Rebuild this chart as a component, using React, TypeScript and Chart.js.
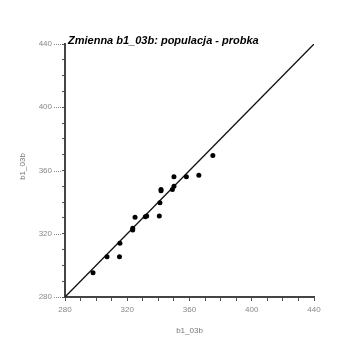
import React, { useEffect, useRef } from "react";
import { Chart, registerables } from "chart.js";

Chart.register(...registerables);

const xValues = [375, 366, 358, 350, 350, 349, 341.7, 341.7, 341, 340.6, 332.5, 331.6, 325, 323.5, 323.5, 315.3, 315, 307, 298];
const yValues = [369.5, 357, 356, 356, 350, 348, 348, 347.2, 339.6, 331.2, 331.2, 330.8, 330.4, 323.4, 322.4, 314, 305.5, 305.5, 295.4];
const axisMin = 280;
const axisMax = 440;
const titleText = "Zmienna b1_03b: populacja - probka";
const xTitle = "b1_03b";
const yTitle = "b1_03b";

export default function App() {
  const ref = useRef<HTMLCanvasElement | null>(null);
  useEffect(() => {
    if (!ref.current) return;
    const points = xValues.map((x, i) => ({ x, y: yValues[i] }));
    const textPlugin = {
      id: "texts",
      afterDraw(chart: any) {
        const ctx = chart.ctx;
        const area = chart.chartArea;
        const ys = chart.scales.y;
        ctx.save();
        ctx.strokeStyle = "#888";
        ctx.lineWidth = 1;
        ctx.setLineDash([1, 1]);
        for (let v = axisMin; v <= axisMax; v += 40) {
          const py = Math.round(ys.getPixelForValue(v)) + 0.5;
          ctx.beginPath();
          ctx.moveTo(54, py);
          ctx.lineTo(area.left - 3, py);
          ctx.stroke();
        }
        ctx.setLineDash([]);
        ctx.fillStyle = "#000";
        ctx.font = "italic bold 11px 'Liberation Sans', Arial, sans-serif";
        ctx.textAlign = "left";
        ctx.textBaseline = "alphabetic";
        ctx.fillText(titleText, area.left + 3, 44);
        ctx.fillStyle = "#777";
        ctx.font = "8px 'Liberation Sans', Arial, sans-serif";
        ctx.textAlign = "center";
        ctx.textBaseline = "middle";
        ctx.fillText(xTitle, (area.left + area.right) / 2, 331);
        ctx.translate(23, (area.top + area.bottom) / 2 - 4);
        ctx.rotate(-Math.PI / 2);
        ctx.fillText(yTitle, 0, 0);
        ctx.restore();
      },
    };
    const tickCb = (v: any) => (Number(v) % 40 === 0 ? String(v) : "");
    const chart = new Chart(ref.current, {
      type: "scatter",
      data: {
        datasets: [
          {
            type: "line",
            data: [
              { x: axisMin, y: axisMin },
              { x: axisMax, y: axisMax },
            ],
            borderColor: "#111",
            borderWidth: 1.3,
            pointRadius: 0,
            order: 2,
          } as any,
          {
            data: points,
            backgroundColor: "#000",
            borderColor: "#000",
            pointRadius: 2.5,
            borderWidth: 0,
            order: 1,
          },
        ],
      },
      options: {
        responsive: false,
        animation: false,
        layout: { padding: { top: 44, right: 40, left: 0, bottom: 0 } },
        plugins: { legend: { display: false }, tooltip: { enabled: false } },
        scales: {
          x: {
            type: "linear",
            min: axisMin,
            max: axisMax,
            afterFit: (s: any) => {
              s.height = 61;
            },
            ticks: {
              stepSize: 10,
              autoSkip: false,
              maxRotation: 0,
              callback: tickCb,
              color: "#888",
              font: { size: 8, family: "'Liberation Sans', Arial, sans-serif" },
              padding: 4,
            },
            grid: { drawOnChartArea: false, tickLength: 4, color: "#555", lineWidth: 1 },
            border: { color: "#444", width: 2 },
          },
          y: {
            type: "linear",
            min: axisMin,
            max: axisMax,
            afterFit: (s: any) => {
              s.width = 65;
            },
            ticks: {
              stepSize: 10,
              autoSkip: false,
              callback: tickCb,
              color: "#888",
              font: { size: 8, family: "'Liberation Sans', Arial, sans-serif" },
              padding: 10,
            },
            grid: { drawOnChartArea: false, tickLength: 3, color: "#555", lineWidth: 1 },
            border: { color: "#444", width: 2 },
          },
        },
      },
      plugins: [textPlugin],
    });
    return () => chart.destroy();
  }, []);
  return (
    <div style={{ position: "fixed", left: 0, top: 0, width: 354, height: 358, background: "#fff" }}>
      <canvas ref={ref} width={354} height={358} style={{ width: 354, height: 358, display: "block" }} />
    </div>
  );
}
